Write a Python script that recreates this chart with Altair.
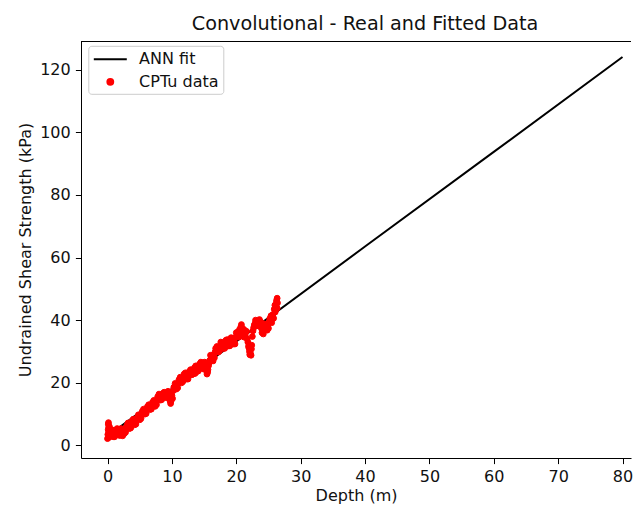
import altair as alt
import pandas as pd

# CPTu measured data (depth in m, undrained shear strength in kPa) - main trace
depth = [0.00, 0.05, 0.10, 0.12, 0.15, 0.18, 0.20, 0.25, 0.35, 0.50, 0.65, 0.80, 1.00, 1.20, 1.40,
         1.60, 1.80, 2.00, 2.20, 2.35, 2.50, 2.70, 2.90, 3.10, 3.30, 3.50, 3.70, 3.90, 4.10, 4.30,
         4.50, 4.70, 4.90, 5.10, 5.30, 5.50, 5.70, 5.90, 6.10, 6.30, 6.50, 6.70, 6.90, 7.10, 7.30,
         7.50, 7.70, 7.90, 8.10, 8.30, 8.50, 8.70, 8.90, 9.10, 9.30, 9.50, 9.70, 9.85, 10.00, 10.20,
         10.40, 10.60, 10.80, 11.00, 11.20, 11.40, 11.60, 11.80, 12.00, 12.20, 12.40, 12.60, 12.80,
         13.00, 13.20, 13.40, 13.60, 13.80, 14.00, 14.20, 14.40, 14.60, 14.80, 15.00, 15.20, 15.40,
         15.55, 15.70, 15.90, 16.10, 16.30, 16.50, 16.70, 16.90, 17.10, 17.30, 17.50, 17.70, 17.90,
         18.10, 18.30, 18.50, 18.70, 18.90, 19.10, 19.30, 19.50, 19.70, 19.90, 20.10, 20.30, 20.50,
         20.70, 20.90, 21.10, 21.30, 21.50, 21.70, 21.90, 22.05, 22.20, 22.35, 22.50, 22.70, 22.90,
         23.10, 23.30, 23.50, 23.70, 23.90, 24.10, 24.30, 24.50, 24.70, 24.90, 25.10, 25.30, 25.50,
         25.70, 25.90, 26.05, 26.15, 26.25, 26.35, 26.40]
su = [2.2, 3.5, 5.0, 6.8, 7.3, 5.8, 4.0, 2.6, 3.1, 3.6, 3.3, 4.0, 3.7, 4.2, 4.0,
      4.5, 4.3, 4.8, 3.6, 3.1, 4.2, 5.3, 5.6, 5.5, 6.1, 6.4, 6.7, 7.0, 7.2, 7.6,
      8.0, 8.5, 8.9, 9.4, 9.9, 10.3, 10.8, 11.1, 11.5, 11.9, 12.3, 12.6, 12.8, 13.1, 13.2,
      13.4, 14.5, 15.1, 15.3, 15.4, 15.6, 15.8, 16.2, 16.8, 16.1, 15.2, 14.3, 14.1, 16.0, 17.5,
      18.2, 19.0, 19.6, 19.9, 20.3, 20.8, 21.5, 21.2, 21.9, 22.0, 22.6, 22.1, 23.0,
      23.6, 24.1, 23.4, 23.0, 24.4, 25.2, 24.6, 25.0, 25.8, 26.3, 25.4, 24.6, 23.8,
      23.4, 25.5, 27.2, 27.6, 28.4, 28.9, 29.8, 30.6, 30.9, 31.4, 31.2, 31.8, 32.1,
      31.7, 32.4, 32.9, 32.3, 32.6, 33.2, 33.0, 33.6, 33.1, 34.5, 35.2, 35.8, 37.0,
      37.8, 36.4, 35.7, 36.8, 36.2, 34.0, 31.6, 30.0, 29.4, 30.8, 34.8, 37.6, 38.9,
      39.6, 39.3, 39.8, 38.6, 37.4, 36.6, 37.8, 36.9, 37.5, 38.3, 39.4, 40.6, 39.2,
      41.8, 43.5, 42.6, 44.8, 46.2, 47.0, 45.5]

# interleaved readings (scatter around the main trace)
depth2 = [0.4, 0.9, 1.3, 1.7, 2.1, 2.6, 3.0, 3.4, 3.8, 4.2, 4.6, 5.0, 5.4, 5.8, 6.2, 6.6, 7.0,
          7.4, 7.8, 8.2, 8.6, 9.0, 9.4, 9.8, 10.3, 10.7, 11.1, 11.5, 11.9, 12.3, 12.7, 13.1, 13.5,
          13.9, 14.3, 14.7, 15.1, 15.45, 15.8, 16.2, 16.6, 17.0, 17.4, 17.8, 18.2, 18.6, 19.0,
          19.4, 19.8, 20.2, 20.6, 21.0, 21.4, 21.8, 22.1, 22.4, 22.6, 23.0, 23.4, 23.8, 24.2,
          24.6, 25.0, 25.4, 25.8, 26.2, 26.3]
su2 = [4.4, 2.8, 5.0, 3.6, 5.4, 3.8, 6.4, 5.4, 7.8, 6.6, 8.9, 8.2, 10.9, 10.0, 12.4, 11.5, 13.8,
       12.5, 15.6, 14.5, 16.6, 15.3, 17.3, 13.4, 18.6, 18.0, 21.0, 20.0, 22.8, 21.2, 23.6, 22.6, 24.8,
       23.6, 26.0, 24.8, 26.6, 22.8, 26.4, 28.6, 28.0, 31.6, 30.2, 32.8, 31.0, 33.8, 31.8,
       34.2, 32.4, 36.2, 36.0, 37.4, 35.0, 33.0, 29.0, 32.0, 36.6, 40.0, 38.4, 39.4, 35.6,
       38.6, 37.4, 41.4, 40.6, 43.6, 45.8]

depth3 = [0.3, 0.7, 1.1, 1.5, 1.9, 2.4, 2.8, 3.2, 3.6, 4.0, 4.4, 4.8, 5.2, 5.6, 6.0, 6.4, 6.8,
          7.2, 7.6, 8.0, 8.4, 8.8, 9.2, 9.6, 10.1, 10.5, 10.9, 11.3, 11.7, 12.1, 12.5, 12.9, 13.3,
          13.7, 14.1, 14.5, 14.9, 15.3, 15.6, 16.0, 16.4, 16.8, 17.2, 17.6, 18.0, 18.4, 18.8,
          19.2, 19.6, 20.0, 20.4, 20.8, 21.2, 21.6, 22.0, 22.3, 22.8, 23.2, 23.6, 24.0, 24.4,
          24.8, 25.2, 25.6, 26.0, 26.35]
su3 = [6.0, 5.0, 2.8, 5.4, 3.2, 4.8, 4.2, 7.2, 5.6, 8.4, 6.8, 9.8, 8.6, 11.6, 10.2, 13.0, 11.6,
       14.4, 13.0, 16.4, 14.6, 17.0, 15.4, 16.4, 15.0, 19.8, 18.4, 21.8, 20.4, 23.2, 21.2, 24.2, 22.8,
       25.4, 23.8, 26.6, 24.4, 26.0, 24.2, 28.8, 27.0, 31.0, 29.8, 33.0, 31.0, 33.6, 31.8,
       34.4, 32.4, 36.0, 34.6, 38.6, 34.6, 36.4, 31.0, 28.8, 38.4, 38.2, 40.2, 36.0, 38.8,
       36.8, 40.4, 40.4, 44.8, 43.8]

# ANN fitted line
fit_depth = [0, 20, 40, 60, 80]
fit_su = [3.0, 33.2, 63.5, 93.7, 124.0]

series_names = ["ANN fit", "CPTu data"]
series_colors = ["#000000", "#ff0000"]
x_ticks = [0, 10, 20, 30, 40, 50, 60, 70, 80]
y_ticks = [0, 20, 40, 60, 80, 100, 120]

pts = pd.DataFrame({"depth": depth + depth2 + depth3, "su": su + su2 + su3, "series": "CPTu data"})
fit = pd.DataFrame({"depth": fit_depth, "su": fit_su, "series": "ANN fit"})

FONT = "DejaVu Sans"
W, H = 550, 417
xscale = alt.Scale(domain=[-4.12, 81.32], nice=False, zero=False)
yscale = alt.Scale(domain=[-3.99, 129.1], nice=False, zero=False)

axis_common = dict(grid=False, domain=True, domainColor="black", domainWidth=1,
                   tickColor="black", tickSize=5.6, tickWidth=1,
                   labelFontSize=16, labelFont=FONT, labelColor="#111111", labelPadding=5.2,
                   titleFontSize=16, titleFont=FONT, titleColor="#111111", titleFontWeight="normal")

x_enc = alt.X("depth:Q", scale=xscale,
              axis=alt.Axis(values=x_ticks, title="Depth (m)", titlePadding=3, **axis_common))
y_enc = alt.Y("su:Q", scale=yscale,
              axis=alt.Axis(values=y_ticks, title="Undrained Shear Strength (kPa)", titlePadding=6,
                            **axis_common))

legend = alt.Legend(orient="none", legendX=7.3, legendY=4.8, title=None,
                    labelFontSize=16, labelFont=FONT, labelColor="#111111",
                    fillColor="white", strokeColor="#cccccc", padding=4, cornerRadius=3,
                    symbolStrokeWidth=2, symbolOffset=8.5, labelOffset=19.3, rowPadding=6,
                    symbolOpacity=1)

color_scale = alt.Scale(domain=series_names, range=series_colors)
shape_scale = alt.Scale(domain=series_names, range=["M-2,0H2", "circle"])
size_scale = alt.Scale(domain=series_names, range=[272, 34])

frame_top = alt.Chart(fit).mark_rule(color="black", strokeWidth=1).encode(
    x=alt.value(0), x2=alt.value(W), y=alt.value(0.5)
)

line = alt.Chart(fit).mark_line(strokeWidth=2, clip=True).encode(
    x=x_enc, y=y_enc,
    color=alt.Color("series:N", scale=color_scale, legend=legend),
)

points = alt.Chart(pts).mark_point(filled=True, opacity=1, strokeWidth=1, clip=True).encode(
    x=x_enc, y=y_enc,
    color=alt.Color("series:N", scale=color_scale, legend=legend),
    stroke=alt.Stroke("series:N", scale=color_scale, legend=legend),
    shape=alt.Shape("series:N", scale=shape_scale, legend=legend),
    size=alt.Size("series:N", scale=size_scale, legend=legend),
)

chart = alt.layer(frame_top, line, points).properties(
    width=W, height=H,
    title=alt.TitleParams("Convolutional - Real and Fitted Data", fontSize=19.2, font=FONT,
                          fontWeight="normal", color="#111111", anchor="middle", offset=7, dx=9),
    autosize=alt.AutoSizeParams(type="none"),
    padding={"left": 73, "top": 33, "right": 4, "bottom": 47},
).configure_view(stroke=None)

chart.save("out.html", embed_options={"renderer": "svg", "actions": False})
